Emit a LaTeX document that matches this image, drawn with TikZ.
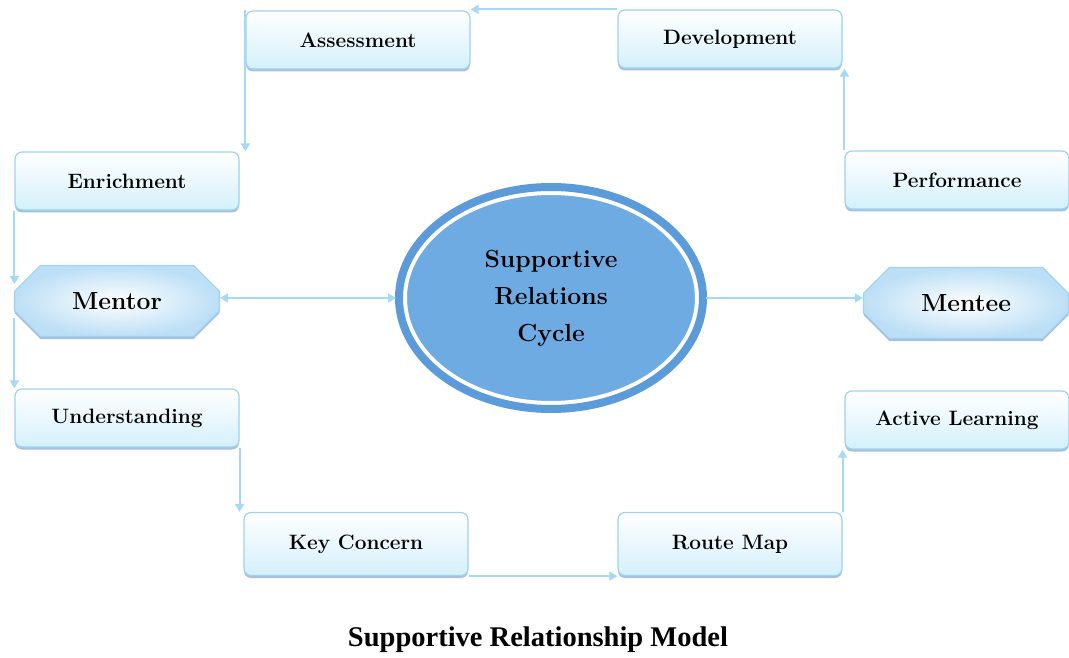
\documentclass[tikz,border=0pt]{standalone}
\usepackage{fontspec}
\newfontfamily\captionfont{Liberation Serif}
\usepackage{tikz}
\usetikzlibrary{arrows.meta, calc}
\usetikzlibrary{shapes, shadows}
\definecolor{linkblue}{HTML}{A6D9F4}
\definecolor{boxline}{HTML}{9FD2F0}
\definecolor{boxbottom}{HTML}{D4F0FB}
\definecolor{shadowblue}{HTML}{7FA6CF}
\definecolor{ringblue}{HTML}{5B9BD9}
\definecolor{cyclefill}{HTML}{6EABE3}
\definecolor{rolefill}{HTML}{BCDFF6}

\begin{document}
\begin{tikzpicture}[x=1pt,y=-1pt,
	stagebox/.style={rectangle, rounded corners=7pt, draw=boxline, line width=1.2pt,
		top color=white, bottom color=boxbottom, minimum width=224pt, minimum height=58pt,
		font=\fontsize{20.8}{24}\selectfont\bfseries,
		drop shadow={shadow xshift=0pt, shadow yshift=-2.5pt, fill=shadowblue, opacity=.7}},
	rolebox/.style={chamfered rectangle, chamfered rectangle xsep=20pt, chamfered rectangle ysep=14pt,
		draw=boxline, line width=1.2pt, inner color=white, outer color=rolefill,
		minimum width=205pt, minimum height=71pt, font=\fontsize{24.7}{28}\selectfont\bfseries,
		drop shadow={shadow xshift=0pt, shadow yshift=-2.5pt, fill=shadowblue, opacity=.7}},
	cyclenode/.style={ellipse, fill=cyclefill, draw=white, line width=4pt, outer sep=9pt,
		minimum width=292pt, minimum height=210pt, align=center,
		font=\fontsize{24.7}{37}\selectfont\bfseries},
	link/.style={linkblue, line width=2pt, -{Triangle[width=9pt,length=8pt]}},
	twoway/.style={link, {Triangle[width=9pt,length=8pt]}-{Triangle[width=9pt,length=8pt]}}]
	\useasboundingbox (0,0) rectangle (1069,658);

	% stages round the cycle
	\node[stagebox] (assess) at (358,40) {Assessment};
	\node[stagebox] (dev) at (730,39) {Development};
	\node[stagebox] (enrich) at (127,181) {Enrichment};
	\node[stagebox] (perf) at (957,180) {Performance};
	\node[stagebox] (under) at (127,418) {Understanding};
	\node[stagebox] (active) at (957,420) {Active Learning};
	\node[stagebox, minimum height=63pt] (keycon) at (356,544) {Key Concern};
	\node[stagebox, minimum height=63pt] (route) at (730,544) {Route Map};

	% the two roles
	\node[rolebox] (mentor) at (117,301) {Mentor};
	\node[rolebox] (mentee) at (966,303) {Mentee};

	% centre ellipse with its outer ring
	\node[cyclenode] (cycle) at (551,298) {Supportive\\Relations\\Cycle};
	\draw[ringblue, line width=8pt] (cycle.center) ellipse (152pt and 111pt);

	% title
	\node[font=\captionfont\fontsize{28.5}{34}\selectfont\bfseries] (title) at (538,640)
		{Supportive Relationship Model};

	% links between the stages
	\draw[link] (dev.north west) -- (dev.north west -| assess.north east);
	\draw[link] (assess.north west) -- (assess.north west |- enrich.north);
	\draw[link] (enrich.south west) -- (enrich.south west |- mentor.170);
	\draw[link] (mentor.190 -| under.north west) -- (under.north west);
	\draw[link] (under.south east) -- (under.south east |- keycon.north);
	\draw[link] (keycon.south east) -- (keycon.south east -| route.west);
	\draw[link] (route.north east) -- (route.north east |- active.south);
	\draw[link] (perf.north west) -- (perf.north west |- dev.south);

	% links through the centre
	\draw[twoway] (cycle.west -| mentor.east) -- (cycle.west);
	\draw[link] (cycle.east) -- (cycle.east -| mentee.west);
\end{tikzpicture}
\end{document}
